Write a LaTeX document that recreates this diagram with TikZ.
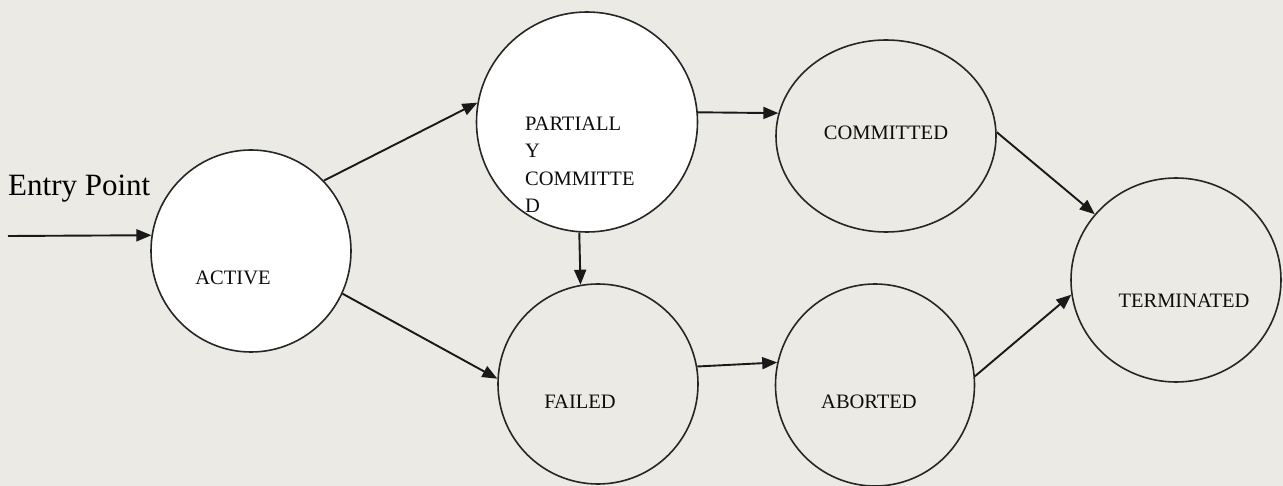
\documentclass[tikz,border=0pt]{standalone}
\usepackage{fontspec}
\setmainfont{Liberation Serif}
\usetikzlibrary{shapes.geometric,arrows.meta}
\definecolor{bg}{RGB}{235,234,228}
\tikzset{
  state/.style={ellipse, draw=black!85, line width=1.6pt, inner sep=0pt},
  lbl/.style={inner sep=0pt, anchor=base, font=\fontsize{20.5}{27.5}\selectfont, text=black!95},
  conn/.style={line width=1.9pt, draw=black!90, -{Triangle[length=15pt,width=12pt]}}
}
\begin{document}
\begin{tikzpicture}[x=1pt,y=-1pt]
\fill[bg] (0,0) rectangle (1283,486);
\useasboundingbox (0,0) rectangle (1283,486);
% states
\node[state, fill=white, minimum width=200pt, minimum height=202pt] (active) at (251,251) {};
\node[state, fill=white, minimum width=221pt, minimum height=220pt] (partial) at (587,122) {};
\node[state, minimum width=200pt, minimum height=200pt] (failed) at (598,384) {};
\node[state, minimum width=220pt, minimum height=192pt] (committed) at (886,136) {};
\node[state, minimum width=199pt, minimum height=202pt] (aborted) at (875,385) {};
\node[state, minimum width=210pt, minimum height=204pt] (term) at (1176,280) {};
% labels
\node[lbl] (tactive) at (233,285) {ACTIVE};
\node[inner sep=0pt, anchor=north west, align=left, font=\fontsize{20.5}{27.5}\selectfont, text=black!95] (tpartial) at (525,116.5) {PARTIALL\\Y\\COMMITTE\\D};
\node[lbl] (tfailed) at (580,408) {FAILED};
\node[lbl] (tcommitted) at (886,140) {COMMITTED};
\node[lbl] (taborted) at (869,408) {ABORTED};
\node[lbl] (tterm) at (1184,308) {TERMINATED};
\node[inner sep=0pt, anchor=base west, font=\fontsize{31}{36}\selectfont, text=black] (entry) at (8,196) {Entry Point};
% connectors
\coordinate (start) at (8,236);
\draw[conn] (start) -- (active.171);
\draw[conn] (active.44) -- (partial.170);
\draw[conn] (active.-25) -- (failed.177);
\draw[conn] (partial.-94) -- (failed.100);
\draw[conn] (partial.5) -- (committed.168);
\draw[conn] (failed.10) -- (aborted.167);
\draw[conn] (committed.2) -- (term.141);
\draw[conn] (aborted.5) -- (term.188);
\end{tikzpicture}
\end{document}
